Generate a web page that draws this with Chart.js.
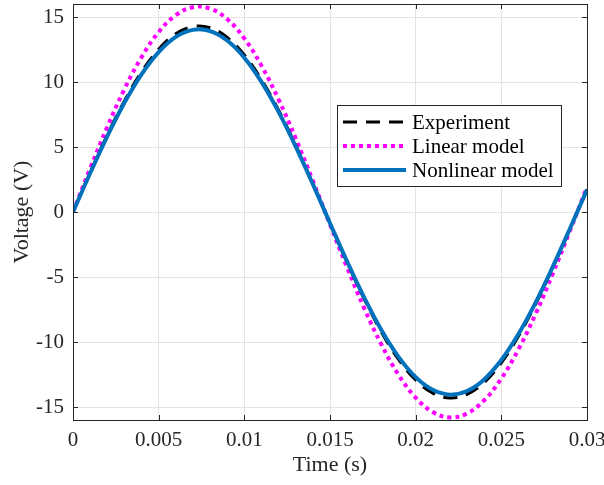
<!DOCTYPE html>
<html lang="en">
<head>
    <meta charset="UTF-8">
    <title>Voltage vs Time</title>
    <script src="https://cdn.jsdelivr.net/npm/chart.js"></script>
    <style>
        body {
            margin: 0;
            background: #fff;
        }
        .chart-container {
            width: 604px;
            height: 485px;
            position: relative;
        }
    </style>
</head>
<body>

    <div class="chart-container">
        <canvas id="voltageChart"></canvas>
    </div>

    <script>
        // Values
        const time = [0, 0.001, 0.002, 0.003, 0.004, 0.005, 0.006, 0.007, 0.008, 0.009,
            0.010, 0.011, 0.012, 0.013, 0.014, 0.015, 0.016, 0.017, 0.018, 0.019,
            0.020, 0.021, 0.022, 0.023, 0.024, 0.025, 0.026, 0.027, 0.028, 0.029, 0.030];
        const experiment = [0, 3.03, 5.92, 8.55, 10.78, 12.52, 13.71, 14.26, 14.17, 13.43,
            12.08, 10.19, 7.83, 5.12, 2.17, -0.87, -3.88, -6.70, -9.23, -11.34,
            -12.92, -13.93, -14.30, -14.02, -13.11, -11.60, -9.56, -7.09, -4.30, -1.31, 1.74];
        const linearModel = [0, 3.35, 6.54, 9.44, 11.91, 13.84, 15.14, 15.75, 15.65, 14.84,
            13.35, 11.26, 8.65, 5.66, 2.40, -0.96, -4.28, -7.41, -10.20, -12.53,
            -14.28, -15.39, -15.80, -15.49, -14.48, -12.81, -10.56, -7.84, -4.75, -1.45, 1.92];
        const nonlinearModel = [0, 2.98, 5.82, 8.40, 10.59, 12.30, 13.47, 14.01, 13.92, 13.19,
            11.87, 10.01, 7.70, 5.03, 2.14, -0.86, -3.81, -6.59, -9.07, -11.14,
            -12.70, -13.68, -14.05, -13.77, -12.88, -11.39, -9.39, -6.97, -4.22, -1.29, 1.71];

        const xTicks = [0, 0.005, 0.01, 0.015, 0.02, 0.025, 0.03];
        const yTicks = [-15, -10, -5, 0, 5, 10, 15];

        const textColor = '#262626';
        const serif = '"Liberation Serif", "Times New Roman", serif';

        const toPoints = (ys) => ys.map((y, i) => ({ x: time[i], y: y }));

        // box, inward ticks and legend drawn on top (MATLAB look)
        const boxPlugin = {
            id: 'boxPlugin',
            afterDraw(chart) {
                const ctx = chart.ctx;
                const area = chart.chartArea;
                const xs = chart.scales.x;
                const ys = chart.scales.y;
                ctx.save();
                ctx.strokeStyle = textColor;
                ctx.lineWidth = 1;
                ctx.beginPath();
                xTicks.forEach(v => {
                    const px = Math.round(xs.getPixelForValue(v)) + 0.5;
                    ctx.moveTo(px, area.bottom); ctx.lineTo(px, area.bottom - 5);
                    ctx.moveTo(px, area.top); ctx.lineTo(px, area.top + 5);
                });
                yTicks.forEach(v => {
                    const py = Math.round(ys.getPixelForValue(v)) + 0.5;
                    ctx.moveTo(area.left, py); ctx.lineTo(area.left + 5, py);
                    ctx.moveTo(area.right, py); ctx.lineTo(area.right - 5, py);
                });
                ctx.stroke();
                ctx.strokeRect(Math.round(area.left) + 0.5, Math.round(area.top) + 0.5,
                    Math.round(area.right - area.left), Math.round(area.bottom - area.top));

                // legend
                const lx = 337, ly = 105, lw = 224, lh = 81;
                ctx.fillStyle = '#fff';
                ctx.fillRect(lx, ly, lw, lh);
                ctx.strokeRect(lx + 0.5, ly + 0.5, lw, lh);
                ctx.font = '21px ' + serif;
                ctx.textBaseline = 'middle';
                chart.data.datasets.forEach((ds, i) => {
                    const y = 122 + i * 24;
                    ctx.beginPath();
                    ctx.strokeStyle = ds.borderColor;
                    ctx.lineWidth = ds.borderWidth;
                    ctx.setLineDash(ds.borderDash || []);
                    ctx.moveTo(343, y);
                    ctx.lineTo(406, y);
                    ctx.stroke();
                    ctx.setLineDash([]);
                    ctx.fillStyle = '#000';
                    ctx.fillText(ds.label, 412, y + 1);
                });
                ctx.restore();
            }
        };

        new Chart(document.getElementById('voltageChart'), {
            type: 'line',
            data: {
                datasets: [
                    {
                        label: 'Experiment',
                        data: toPoints(experiment),
                        borderColor: '#000000',
                        borderWidth: 3,
                        borderDash: [14, 9],
                        order: 1
                    },
                    {
                        label: 'Linear model',
                        data: toPoints(linearModel),
                        borderColor: '#ff00ff',
                        borderWidth: 4,
                        borderDash: [4, 4],
                        order: 2
                    },
                    {
                        label: 'Nonlinear model',
                        data: toPoints(nonlinearModel),
                        borderColor: '#0072bd',
                        borderWidth: 4,
                        order: 0
                    }
                ]
            },
            options: {
                responsive: true,
                maintainAspectRatio: false,
                animation: false,
                layout: {
                    padding: { top: 4, right: 17, left: 0, bottom: 0 }
                },
                elements: {
                    point: { radius: 0 },
                    line: { tension: 0.4, fill: false }
                },
                scales: {
                    x: {
                        type: 'linear',
                        min: 0,
                        max: 0.03,
                        afterBuildTicks: (s) => { s.ticks = xTicks.map(v => ({ value: v })); },
                        afterFit: (s) => {
                            s.height = 65;
                            s.paddingLeft = 0;
                            s.paddingRight = 0;
                        },
                        grid: { color: '#e3e3e3', drawTicks: false },
                        border: { display: false },
                        ticks: {
                            autoSkip: false,
                            maxRotation: 0,
                            padding: 8,
                            color: textColor,
                            font: { family: serif, size: 21 },
                            callback: (v) => String(v)
                        },
                        title: {
                            display: true,
                            text: 'Time (s)',
                            color: textColor,
                            font: { family: serif, size: 22 },
                            padding: { top: 0, bottom: 7 }
                        }
                    },
                    y: {
                        min: -16,
                        max: 16,
                        afterBuildTicks: (s) => { s.ticks = yTicks.map(v => ({ value: v })); },
                        afterFit: (s) => {
                            s.width = 73;
                            s.paddingTop = 0;
                            s.paddingBottom = 0;
                        },
                        grid: { color: '#e3e3e3', drawTicks: false },
                        border: { display: false },
                        ticks: {
                            padding: 9,
                            color: textColor,
                            font: { family: serif, size: 21 },
                            callback: (v) => String(v)
                        },
                        title: {
                            display: true,
                            text: 'Voltage (V)',
                            color: textColor,
                            font: { family: serif, size: 22 },
                            padding: { top: 9, bottom: 0 }
                        }
                    }
                },
                plugins: {
                    legend: { display: false },
                    tooltip: { enabled: false }
                }
            },
            plugins: [boxPlugin]
        });
    </script>

</body>
</html>
